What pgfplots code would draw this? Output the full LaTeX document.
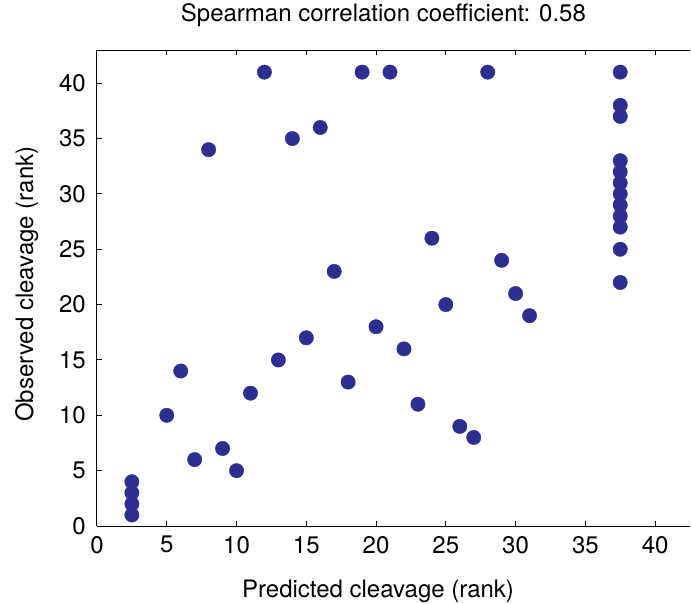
\documentclass[border=0pt]{standalone}
\usepackage{pgfplots}
\pgfplotsset{compat=1.18}
\usepackage{fontspec}
\setmainfont{TeX Gyre Heros}
\definecolor{dotblue}{RGB}{44,47,143}
\begin{document}
\fontsize{24}{28}\selectfont
\begin{tikzpicture}
\begin{axis}[
  scale only axis, width=593pt, height=476pt,
  xmin=0, xmax=42.5, ymin=0, ymax=43,
  axis x line*=box, axis y line*=left,
  y axis line style={-},
  axis line style={line width=1pt, black},
  xtick={0,5,...,40}, ytick={0,5,...,40},
  tick align=inside, major tick length=5pt,
  tick style={line width=1pt, black},
  /pgf/number format/assume math mode=true,
  tick label style={font=\fontsize{24}{28}\selectfont},
  xticklabel style={yshift=-2pt},
  yticklabel style={xshift=-3pt},
  title={Spearman correlation coefficient: 0.58},
  title style={at={(0.483,1.0483)}, anchor=base, font=\fontsize{24}{28}\selectfont},
  xlabel={Predicted cleavage (rank)},
  xlabel style={at={(0.474,-0.1492)}, anchor=base, font=\fontsize{24}{28}\selectfont},
  ylabel={Observed cleavage (rank)},
  ylabel style={at={(-0.1079,0.508)}, anchor=base, font=\fontsize{24}{28}\selectfont},
]
\addplot[only marks, mark=*, mark size=7.2pt, color=dotblue, mark options={fill=dotblue, draw=dotblue}] table {
x y
2.5 1
2.5 2
2.5 3
2.5 4
5 10
6 14
7 6
8 34
9 7
10 5
11 12
12 41
13 15
14 35
15 17
16 36
17 23
18 13
19 41
20 18
21 41
22 16
23 11
24 26
25 20
26 9
27 8
28 41
29 24
30 21
31 19
37.5 22
37.5 25
37.5 27
37.5 28
37.5 29
37.5 30
37.5 31
37.5 32
37.5 33
37.5 37
37.5 38
37.5 41
};
\end{axis}
\pgfresetboundingbox
\path (current axis.south west) ++(-97pt,-77pt) rectangle ++(691pt,603pt);
\end{tikzpicture}
\end{document}
